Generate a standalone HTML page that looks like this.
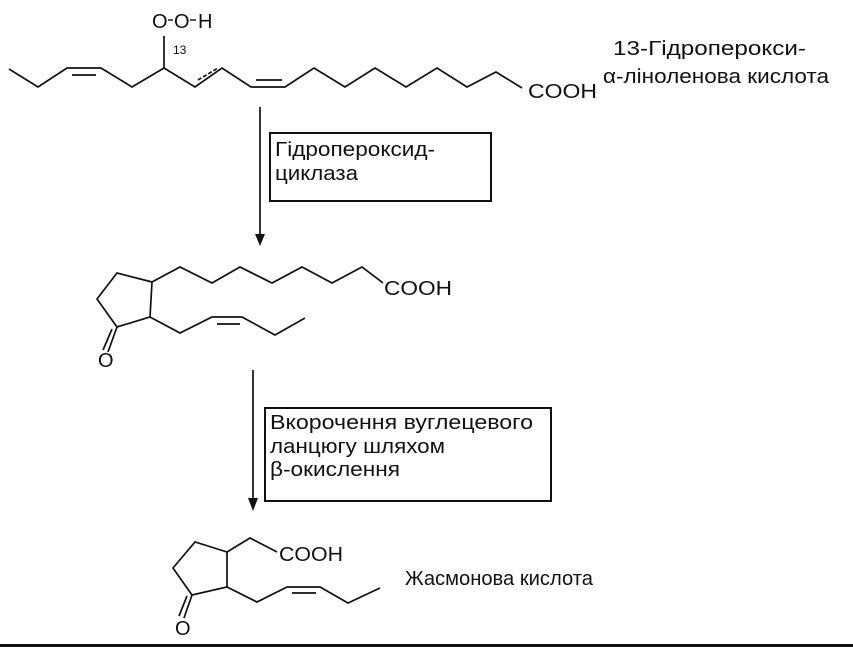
<!DOCTYPE html>
<html><head><meta charset="utf-8"><style>
html,body{margin:0;padding:0;background:#fff;}
svg{display:block}
text{font-family:"Liberation Sans",sans-serif;fill:#111}
</style></head><body>
<svg width="853" height="651" viewBox="0 0 853 651" xmlns="http://www.w3.org/2000/svg">
<g fill="none" stroke="#111" stroke-width="1.7" stroke-linejoin="miter">
<polyline points="9,69 38,87 67,68 101,68 132,87 164,68 195,87 222,68 251,87 285,87 314,68 345,87 375,68 406,87 437,68 467,87 496,72 522,88"/>
<line x1="72" y1="75" x2="96" y2="75"/>
<line x1="198" y1="80" x2="218" y2="68" stroke-dasharray="4,2"/>
<line x1="256" y1="80" x2="282" y2="80"/>
<line x1="164" y1="68" x2="164" y2="36"/>
<polygon points="152,282 117,273 97,299 117,327 150,317"/>
<line x1="117" y1="327" x2="108" y2="352"/>
<line x1="112" y1="329" x2="103" y2="350"/>
<polyline points="152,282 180,267 212,283 240,267 272,283 302,267 332,283 362,267 383,283"/>
<polyline points="150,317 180,333 212,317 242,317 275,335 305,318"/>
<line x1="217" y1="324" x2="240" y2="324"/>
<polygon points="227,552 195,542 173,568 192,595 227,587"/>
<line x1="192" y1="595" x2="184" y2="618"/>
<line x1="187" y1="596" x2="179" y2="616"/>
<polyline points="227,552 250,538 277,552"/>
<polyline points="227,587 257,602 287,587 320,587 348,603 380,588"/>
<line x1="292" y1="593" x2="316" y2="593"/>
<line x1="260" y1="107" x2="260" y2="236"/>
<line x1="253" y1="370" x2="253" y2="500"/>
<rect x="270" y="133" width="221" height="68" stroke-width="2"/>
<rect x="265" y="408" width="286" height="93" stroke-width="2"/>
</g>
<polygon points="255,234 265,234 260,246" fill="#111"/>
<polygon points="248,498 258,498 253,511" fill="#111"/>
<rect x="0" y="644" width="853" height="3" fill="#111"/>
<text x="152" y="28" font-size="20">O</text>
<line x1="168" y1="20" x2="173" y2="20" stroke="#111" stroke-width="1.4"/>
<text x="174" y="28" font-size="20">O</text>
<line x1="190" y1="20" x2="196" y2="20" stroke="#111" stroke-width="1.4"/>
<text x="198" y="28" font-size="20">H</text>
<text x="173" y="54" font-size="12">13</text>
<text x="528" y="98" font-size="20" textLength="69" lengthAdjust="spacingAndGlyphs">COOH</text>
<text x="613" y="55" font-size="20" textLength="193" lengthAdjust="spacingAndGlyphs">13-Гідроперокси-</text>
<text x="603" y="83" font-size="20" textLength="226" lengthAdjust="spacingAndGlyphs">α-ліноленова кислота</text>
<text x="275" y="156" font-size="20" textLength="160" lengthAdjust="spacingAndGlyphs">Гідропероксид-</text>
<text x="275" y="180" font-size="20" textLength="83" lengthAdjust="spacingAndGlyphs">циклаза</text>
<text x="384" y="295" font-size="20" textLength="68" lengthAdjust="spacingAndGlyphs">COOH</text>
<text x="98" y="367" font-size="20">O</text>
<text x="270" y="429" font-size="20" textLength="263" lengthAdjust="spacingAndGlyphs">Вкорочення вуглецевого</text>
<text x="270" y="453" font-size="20" textLength="175" lengthAdjust="spacingAndGlyphs">ланцюгу шляхом</text>
<text x="270" y="476" font-size="20" textLength="130" lengthAdjust="spacingAndGlyphs">β-окислення</text>
<text x="279" y="561" font-size="20" textLength="64" lengthAdjust="spacingAndGlyphs">COOH</text>
<text x="175" y="635" font-size="20">O</text>
<text x="405" y="585" font-size="20" textLength="188" lengthAdjust="spacingAndGlyphs">Жасмонова кислота</text>
</svg>
</body></html>
